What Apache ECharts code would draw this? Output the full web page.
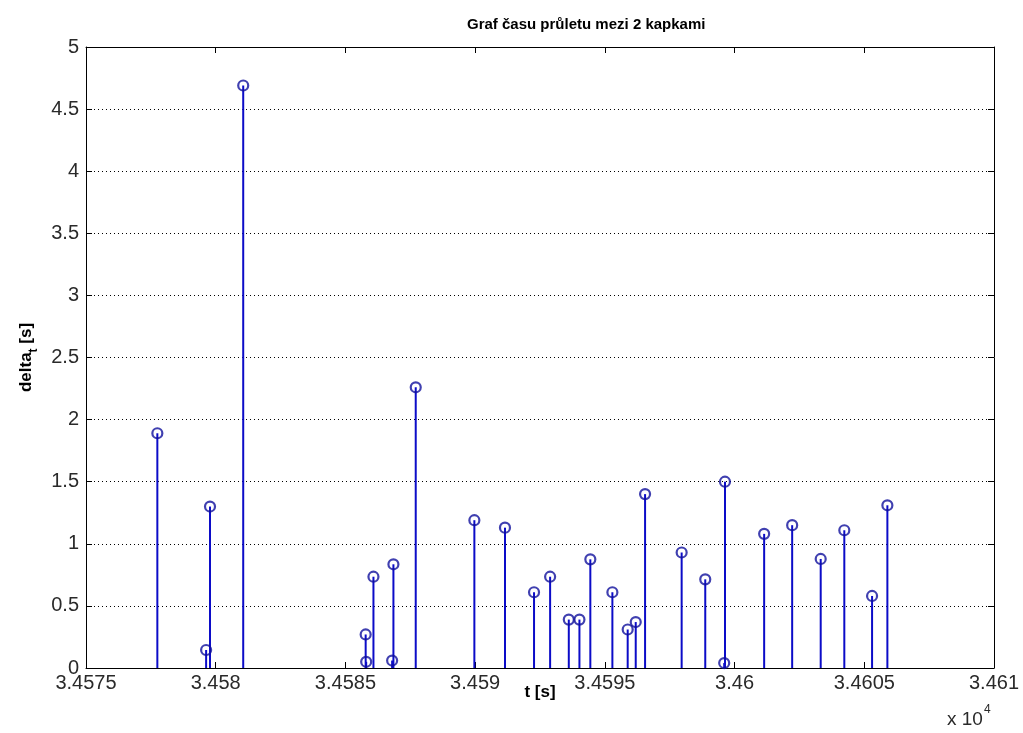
<!DOCTYPE html>
<html>
<head>
<meta charset="utf-8">
<script src="https://cdn.jsdelivr.net/npm/echarts@6/dist/echarts.min.js"></script>
<style>html,body{margin:0;padding:0;background:#fff;}#c{width:1023px;height:733px;}</style>
</head>
<body>
<div id="c"></div>
<script>
// Time of each drop [s]
const times = [34577.75, 34579.63, 34579.78, 34581.06, 34585.78, 34585.80, 34586.08, 34586.80, 34586.85, 34587.71,
  34589.97, 34591.15, 34592.27, 34592.89, 34593.61, 34594.02, 34594.44, 34595.29, 34595.88, 34596.19,
  34596.55, 34597.96, 34598.87, 34599.60, 34599.63, 34601.14, 34602.22, 34603.32, 34604.23, 34605.30, 34605.89];
// Interval between drops [s]
const deltas = [1.89, 0.145, 1.30, 4.69, 0.27, 0.05, 0.735, 0.06, 0.835, 2.26,
  1.19, 1.13, 0.61, 0.735, 0.39, 0.39, 0.875, 0.61, 0.31, 0.37,
  1.40, 0.93, 0.714, 0.04, 1.50, 1.08, 1.15, 0.878, 1.109, 0.58, 1.31];
const xMin = 34575, xMax = 34610, xStep = 5;
const yMin = 0, yMax = 5, yStep = 0.5;
const titleText = 'Graf času průletu mezi 2 kapkami';
const xName = 't [s]';
const exponentBase = 'x 10';
const exponentPow = '4';

const points = times.map((t, i) => [t, deltas[i]]);
const FONT = "'Liberation Sans', Arial, Helvetica, sans-serif";
const chart = echarts.init(document.getElementById('c'), null, {renderer: 'canvas'});
const tickStyle = {show: true, inside: true, length: 6, lineStyle: {color: '#000', width: 1}};
const lineStyle = {show: true, onZero: false, lineStyle: {color: '#000', width: 1}};
chart.setOption({
  animation: false,
  backgroundColor: '#fff',
  title: {
    text: titleText, left: 462, top: 12,
    textStyle: {fontFamily: FONT, fontSize: 15, fontWeight: 'bold', color: '#000'}
  },
  grid: {left: 86, right: 29, top: 47, bottom: 65, containLabel: false},
  xAxis: [{
    type: 'value', min: xMin, max: xMax, interval: xStep, position: 'bottom',
    axisLine: lineStyle, axisTick: tickStyle, splitLine: {show: false},
    axisLabel: {
      fontFamily: FONT, fontSize: 20, color: '#2a2a2a', margin: 5,
      showMinLabel: true, showMaxLabel: true,
      formatter: v => String(+(v / 10000).toFixed(5))
    },
    name: xName, nameLocation: 'middle', nameGap: 16, nameMoveOverlap: false,
    nameTextStyle: {fontFamily: FONT, fontSize: 17, fontWeight: 'bold', color: '#000'}
  }, {
    type: 'value', min: xMin, max: xMax, interval: xStep, position: 'top',
    axisLine: lineStyle, axisTick: tickStyle, axisLabel: {show: false}, splitLine: {show: false}
  }],
  yAxis: [{
    type: 'value', min: yMin, max: yMax, interval: yStep, position: 'left',
    axisLine: lineStyle, axisTick: tickStyle,
    splitLine: {show: true, lineStyle: {color: '#000', width: 1, type: [1, 3]}},
    axisLabel: {fontFamily: FONT, fontSize: 20, color: '#2a2a2a', margin: 7},
    name: '{a|delta}{b|t}{a| [s]}', nameLocation: 'middle', nameGap: 46, nameRotate: 90,
    nameMoveOverlap: false,
    nameTextStyle: {
      fontFamily: FONT, fontSize: 17, fontWeight: 'bold', color: '#000',
      rich: {
        a: {fontFamily: FONT, fontSize: 17, fontWeight: 'bold', color: '#000', verticalAlign: 'bottom', padding: [0, 0, 5, 0]},
        b: {fontFamily: FONT, fontSize: 12, fontWeight: 'bold', color: '#000', verticalAlign: 'bottom'}
      }
    }
  }, {
    type: 'value', min: yMin, max: yMax, interval: yStep, position: 'right',
    axisLine: lineStyle, axisTick: tickStyle, axisLabel: {show: false}, splitLine: {show: false}
  }],
  graphic: [{
    type: 'text', left: 947, top: 704,
    style: {
      text: '{a|' + exponentBase + '}{b|' + exponentPow + '}',
      rich: {
        a: {fontFamily: FONT, fontSize: 19, fill: '#2a2a2a', verticalAlign: 'bottom'},
        b: {fontFamily: FONT, fontSize: 12, fill: '#2a2a2a', verticalAlign: 'bottom', padding: [0, 0, 13, 1]}
      }
    }
  }],
  series: [{
    type: 'custom', xAxisIndex: 0, yAxisIndex: 0, data: points, z: 2,
    renderItem: (params, api) => {
      const p0 = api.coord([api.value(0), 0]);
      const p1 = api.coord([api.value(0), api.value(1)]);
      return {type: 'line', shape: {x1: p0[0], y1: p0[1], x2: p1[0], y2: p1[1]},
        style: {stroke: '#0c0cc8', lineWidth: 2}};
    }
  }, {
    type: 'scatter', xAxisIndex: 0, yAxisIndex: 0, data: points, z: 3,
    symbol: 'circle', symbolSize: 10,
    itemStyle: {color: 'rgba(255,255,255,0)', borderColor: '#10109c', borderWidth: 2.2}
  }]
});
</script>
</body>
</html>
